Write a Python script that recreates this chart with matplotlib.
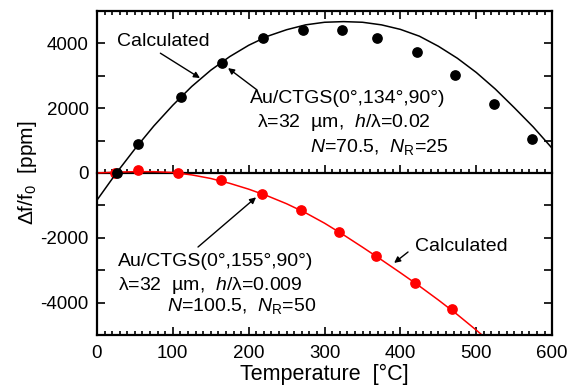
import numpy as np
import matplotlib
matplotlib.use("Agg")
import matplotlib.pyplot as plt
from matplotlib.ticker import MultipleLocator, FuncFormatter

plt.rcParams["font.family"] = ["Liberation Sans", "DejaVu Sans"]
plt.rcParams["mathtext.fontset"] = "custom"
plt.rcParams["mathtext.rm"] = "Liberation Sans"
plt.rcParams["mathtext.it"] = "Liberation Sans:italic"

# ---------- data ----------
# measured points, cut (0,134,90)
black_T = [26.8, 54.5, 110.8, 165, 219, 272, 323, 369, 422, 472, 523, 574]
black_df = [0, 905, 2356, 3399, 4166, 4423, 4423, 4178, 3718, 3012, 2123, 1058]
# calculated curve, cut (0,134,90)
black_calc_T = [0, 25, 50, 75, 100, 125, 150, 175, 200, 225, 250, 275, 300,
                325, 350, 375, 400, 425, 450, 475, 500, 525, 550, 575, 600]
black_calc = [-840, -20, 740, 1450, 2090, 2670, 3170, 3590, 3940, 4220, 4420,
              4570, 4650, 4670, 4650, 4570, 4430, 4220, 3910, 3540, 3100,
              2590, 2015, 1420, 760]

# measured points, cut (0,155,90)
red_T = [24, 54.5, 107, 163, 217, 268.5, 319, 367.7, 419, 468.5]
red_df = [0, 77, 6, -230, -638, -1150, -1834, -2560, -3399, -4209]
# calculated curve, cut (0,155,90)
red_calc_T = [0, 25, 50, 75, 100, 125, 150, 175, 200, 225, 250, 275, 300,
              325, 350, 375, 400, 425, 450, 475, 500, 510]
red_calc = [0, 25, 40, 40, 15, -60, -170, -320, -500, -710, -950, -1230,
            -1550, -1910, -2290, -2680, -3080, -3490, -3920, -4370, -4850, -5050]

fig = plt.figure(figsize=(5.77, 3.90), dpi=100)
ax = fig.add_axes([0.168, 0.141, 0.789, 0.831])

ax.plot(red_calc_T, red_calc, color="#ff0000", lw=1.1, zorder=2)
ax.plot(red_T, red_df, "o", color="#ff0000", ms=6.7, zorder=3)
ax.plot(black_calc_T, black_calc, color="black", lw=1.1, zorder=4)
ax.plot(black_T, black_df, "o", color="black", ms=6.7, zorder=5)

ax.set_xlim(0, 600)
ax.set_ylim(-5000, 5000)
ax.xaxis.set_major_locator(MultipleLocator(100))
ax.xaxis.set_minor_locator(MultipleLocator(10))
ax.yaxis.set_major_locator(MultipleLocator(1000))
ax.yaxis.set_major_formatter(FuncFormatter(lambda v, p: f"{int(v)}" if int(v) % 2000 == 0 else ""))
ax.tick_params(which="both", direction="in", top=True, right=True, labelsize=13.5, width=1.2)
ax.tick_params(which="major", length=6)
ax.tick_params(which="minor", length=3)
ax.tick_params(axis="x", which="major", pad=7)
ax.tick_params(axis="y", which="major", pad=6)
for s in ax.spines.values():
    s.set_linewidth(1.6)

# zero line with its own ticks
zero = ax.secondary_xaxis(0.5)
zero.xaxis.set_major_locator(MultipleLocator(100))
zero.xaxis.set_minor_locator(MultipleLocator(10))
zero.tick_params(which="both", direction="out", labeltop=False, labelbottom=False, width=1.2)
zero.tick_params(which="major", length=6)
zero.tick_params(which="minor", length=3)
for s in zero.spines.values():
    s.set_linewidth(1.6)

ax.set_xlabel("Temperature  [°C]", fontsize=15.5, labelpad=1.5)
ax.set_ylabel(r"$\Delta$f/f$_0$  [ppm]", fontsize=15, labelpad=1)

arrow = dict(arrowstyle="-|>", color="black", lw=1.0, mutation_scale=9, shrinkA=0, shrinkB=0)
fs = 14

# upper annotations
ax.text(88, 4064, "Calculated", fontsize=fs, ha="center", va="center")
ax.annotate("", xy=(135.8, 2929), xytext=(83.6, 3696), arrowprops=arrow)
ax.annotate("", xy=(172.8, 3236), xytext=(211, 2561), arrowprops=arrow)
ax.text(201.8, 2285, "Au/CTGS(0°,134°,90°)", fontsize=fs, ha="left", va="center")
ax.text(211, 1549, r"λ=32  µm,  $h$/λ=0.02", fontsize=fs, ha="left", va="center")
ax.text(281, 813, r"$N$=70.5,  $N_\mathrm{R}$=25", fontsize=fs, ha="left", va="center")

# lower annotations
ax.annotate("", xy=(209.7, -752), xytext=(133.2, -2285), arrowprops=arrow)
ax.text(27.7, -2745, "Au/CTGS(0°,155°,90°)", fontsize=fs, ha="left", va="center")
ax.text(27.7, -3482, r"λ=32  µm,  $h$/λ=0.009", fontsize=fs, ha="left", va="center")
ax.text(92.3, -4095, r"$N$=100.5,  $N_\mathrm{R}$=50", fontsize=fs, ha="left", va="center")
ax.text(419.4, -2255, "Calculated", fontsize=fs, ha="left", va="center")
ax.annotate("", xy=(391.7, -2776), xytext=(410, -2439), arrowprops=arrow)

fig.savefig("out.png", dpi=100)
